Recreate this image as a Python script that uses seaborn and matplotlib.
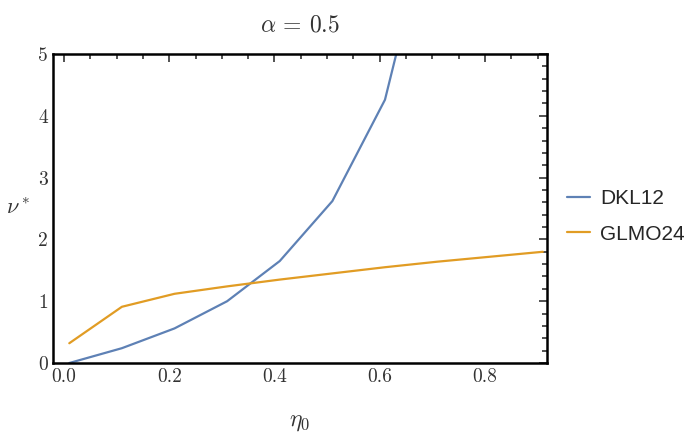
import numpy as np
import pandas as pd
import seaborn as sns
import matplotlib
matplotlib.use("Agg")
import matplotlib.pyplot as plt
from matplotlib.ticker import MultipleLocator
from matplotlib.lines import Line2D

# Data
eta0 = [0.01, 0.11, 0.21, 0.31, 0.41, 0.51, 0.61, 0.71, 0.81, 0.91]
dkl12 = [0.0, 0.24, 0.56, 1.0, 1.65, 2.62, 4.26, 7.7, None, None]
glmo24 = [0.32, 0.91, 1.12, 1.24, 1.35, 1.45, 1.55, 1.64, 1.72, 1.80]
series_names = ["DKL12", "GLMO24"]
colors = ["#5E81B5", "#E19C24"]
xticks = [0.0, 0.2, 0.4, 0.6, 0.8]
yticks = [0, 1, 2, 3, 4, 5]

rows = []
for x, a, b in zip(eta0, dkl12, glmo24):
    if a is not None:
        rows.append({"eta0": x, "nu": a, "series": series_names[0]})
    rows.append({"eta0": x, "nu": b, "series": series_names[1]})
df = pd.DataFrame(rows)

sns.set_style("white")
plt.rcParams["mathtext.fontset"] = "cm"
plt.rcParams["font.family"] = ["cmr10", "DejaVu Serif"]
plt.rcParams["axes.formatter.use_mathtext"] = True

fig = plt.figure(figsize=(6.98, 4.37), dpi=100)
ax = fig.add_axes([0.0759, 0.1693, 0.7078, 0.7071])

sns.lineplot(data=df, x="eta0", y="nu", hue="series", palette=colors,
             hue_order=series_names, linewidth=1.6, ax=ax, legend=False,
             sort=False, estimator=None)

ax.set_xlim(-0.021, 0.918)
ax.set_ylim(0, 5)
ax.set_xticks(xticks)
ax.set_xticklabels([f"{t:.1f}" for t in xticks])
ax.set_yticks(yticks)
ax.set_yticklabels([str(t) for t in yticks])
ax.xaxis.set_minor_locator(MultipleLocator(0.05))
ax.yaxis.set_minor_locator(MultipleLocator(0.2))
ax.tick_params(which="both", direction="in", top=True, right=True,
               labelsize=14, colors="#333333", width=1.2)
ax.tick_params(which="major", length=6)
ax.tick_params(which="minor", length=3.5)
for sp in ax.spines.values():
    sp.set_linewidth(1.8)
    sp.set_color("black")
    sp.set_visible(True)

ax.set_xlabel(r"$\eta_0$", fontsize=17, labelpad=18, color="#333333")
ax.set_ylabel(r"$\nu^*$", fontsize=16, rotation=0, color="#333333")
ax.yaxis.set_label_coords(-0.07, 0.47)
ax.set_title(r"$\alpha$ = 0.5", fontsize=17, pad=16, color="#333333")

handles = [Line2D([0], [0], color=c, lw=1.6) for c in colors]
leg = fig.legend(handles, series_names, loc="center left",
                 bbox_to_anchor=(0.812, 0.505), frameon=False,
                 prop={"family": "Liberation Sans", "size": 15},
                 handlelength=1.1, handletextpad=0.5, labelspacing=0.8,
                 borderaxespad=0, borderpad=0)

fig.savefig("out.png", dpi=100)
